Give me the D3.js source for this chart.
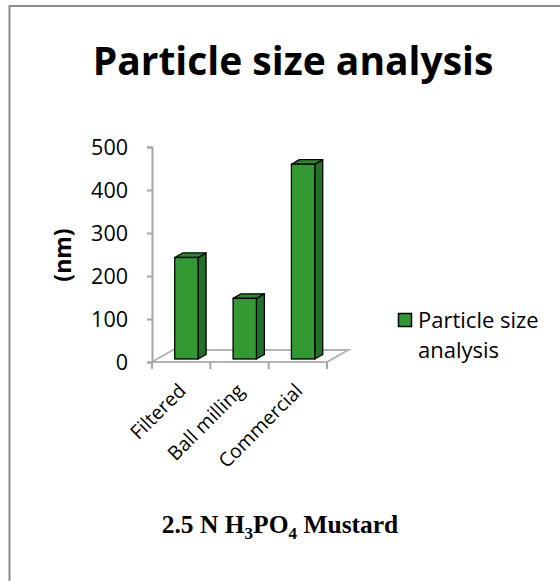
<!DOCTYPE html>
<html>
<head>
<meta charset="utf-8">
<script src="https://cdn.jsdelivr.net/npm/d3@7"></script>
<style>
  html, body { margin: 0; padding: 0; background: #fff; }
  svg { display: block; }
</style>
</head>
<body>
<svg id="chart" width="560" height="581"></svg>
<script>
// Particle size by preparation method
const categories = ["Filtered", "Ball milling", "Commercial"];
const values = [236, 141, 453];
const yTicks = [0, 100, 200, 300, 400, 500];
const seriesName = ["Particle size", "analysis"];
const chartTitle = "Particle size analysis";
const yLabel = "(nm)";

const svg = d3.select("#chart");
const sans = "'Open Sans', 'Liberation Sans', sans-serif";

// outer frame (left and top edges visible)
svg.append("rect")
  .attr("x", 9.5).attr("y", 6)
  .attr("width", 600).attr("height", 620)
  .attr("fill", "#fff")
  .attr("stroke", "#8c8c8c").attr("stroke-width", 2);

// plot geometry
const x0 = 152, x1 = 327;          // front floor edge
const yBase = 362, yTop = 147;     // value axis range at front
const depthX = 21, depthY = -12;   // floor depth projection

const x = d3.scaleBand().domain(categories).range([x0, x1]).paddingInner(0).paddingOuter(0);
const y = d3.scaleLinear().domain([0, 500]).range([yBase, yTop]);

// title
svg.append("text")
  .attr("x", 293).attr("y", 75)
  .attr("text-anchor", "middle")
  .attr("font-family", sans).attr("font-weight", "bold")
  .attr("font-size", 39).attr("fill", "#000")
  .text(chartTitle);

// floor
svg.append("path")
  .attr("d", `M${x0},${yBase} L${x0 + depthX},${yBase + depthY} L${x1 + depthX},${yBase + depthY} L${x1},${yBase} Z`)
  .attr("fill", "none").attr("stroke", "#b3b3b3").attr("stroke-width", 2);

// value axis
const yAxis = d3.axisLeft(y).tickValues(yTicks).tickSize(5).tickPadding(19);
const gy = svg.append("g").attr("transform", `translate(${x0},0)`).call(yAxis);
gy.select(".domain").attr("stroke", "#a6a6a6").attr("stroke-width", 2);
gy.selectAll(".tick line").attr("stroke", "#a6a6a6").attr("stroke-width", 2);
gy.selectAll(".tick text")
  .attr("font-family", sans).attr("font-size", 21.5).attr("fill", "#000")
  .attr("dy", "0.36em");

// category axis ticks along the front floor edge
const catTicks = [x0].concat(categories.map(c => x(c) + x.bandwidth()));
svg.append("g").selectAll("line").data(catTicks).join("line")
  .attr("x1", d => d).attr("x2", d => d)
  .attr("y1", yBase).attr("y2", yBase + 7)
  .attr("stroke", "#a6a6a6").attr("stroke-width", 2);

// rotated category labels
svg.append("g").selectAll("text").data(categories).join("text")
  .attr("transform", c => `translate(${x(c) + x.bandwidth() / 2 + 6},${yBase + 30}) rotate(-45)`)
  .attr("text-anchor", "end")
  .attr("font-family", sans).attr("font-size", 19.5).attr("fill", "#000")
  .text(c => c);

// 3D columns
const gapRatio = 1.5;
const barW = x.bandwidth() / (1 + gapRatio);
const f0 = 0.25, f1 = 0.63;        // front/back depth fractions of each column
const ox = depthX * f0, oy = depthY * f0;
const sx = depthX * (f1 - f0), sy = depthY * (f1 - f0);

const bars = svg.append("g").selectAll("g").data(categories.map((c, i) => ({ c, v: values[i] }))).join("g");
bars.each(function(d) {
  const g = d3.select(this);
  const left = x(d.c) + (x.bandwidth() - barW) / 2 + ox;
  const right = left + barW;
  const bottom = y(0) + oy;
  const top = y(d.v) + oy;
  // side face
  g.append("path")
    .attr("d", `M${right},${bottom} L${right + sx},${bottom + sy} L${right + sx},${top + sy} L${right},${top} Z`)
    .attr("fill", "#22702a").attr("stroke", "#000").attr("stroke-width", 1.3).attr("stroke-linejoin", "round");
  // top face
  g.append("path")
    .attr("d", `M${left},${top} L${left + sx},${top + sy} L${right + sx},${top + sy} L${right},${top} Z`)
    .attr("fill", "#2b8a2f").attr("stroke", "#000").attr("stroke-width", 1.3).attr("stroke-linejoin", "round");
  // front face
  g.append("rect")
    .attr("x", left).attr("y", top)
    .attr("width", barW).attr("height", bottom - top)
    .attr("fill", "#339933").attr("stroke", "#000").attr("stroke-width", 1.3);
});

// value axis title
svg.append("text")
  .attr("transform", "translate(71,255) rotate(-90)")
  .attr("text-anchor", "middle")
  .attr("font-family", sans).attr("font-weight", "bold")
  .attr("font-size", 23).attr("fill", "#000")
  .text(yLabel);

// legend
svg.append("rect")
  .attr("x", 398.5).attr("y", 313.5).attr("width", 13).attr("height", 13)
  .attr("fill", "#339933").attr("stroke", "#000").attr("stroke-width", 1.5);
svg.append("text")
  .attr("font-family", sans).attr("font-size", 22).attr("fill", "#000")
  .selectAll("tspan").data(seriesName).join("tspan")
  .attr("x", 418).attr("y", (d, i) => 328 + i * 30)
  .text(d => d);

// subtitle with chemical formula
const sub = svg.append("text")
  .attr("x", 280).attr("y", 533)
  .attr("text-anchor", "middle")
  .attr("font-family", "'Liberation Serif', 'Times New Roman', serif")
  .attr("font-weight", "bold").attr("font-size", 25.5).attr("fill", "#000");
sub.append("tspan").text("2.5 N H");
sub.append("tspan").attr("font-size", 17).attr("dy", 6).text("3");
sub.append("tspan").attr("dy", -6).text("PO");
sub.append("tspan").attr("font-size", 17).attr("dy", 6).text("4");
sub.append("tspan").attr("dy", -6).text(" Mustard");
</script>
</body>
</html>
